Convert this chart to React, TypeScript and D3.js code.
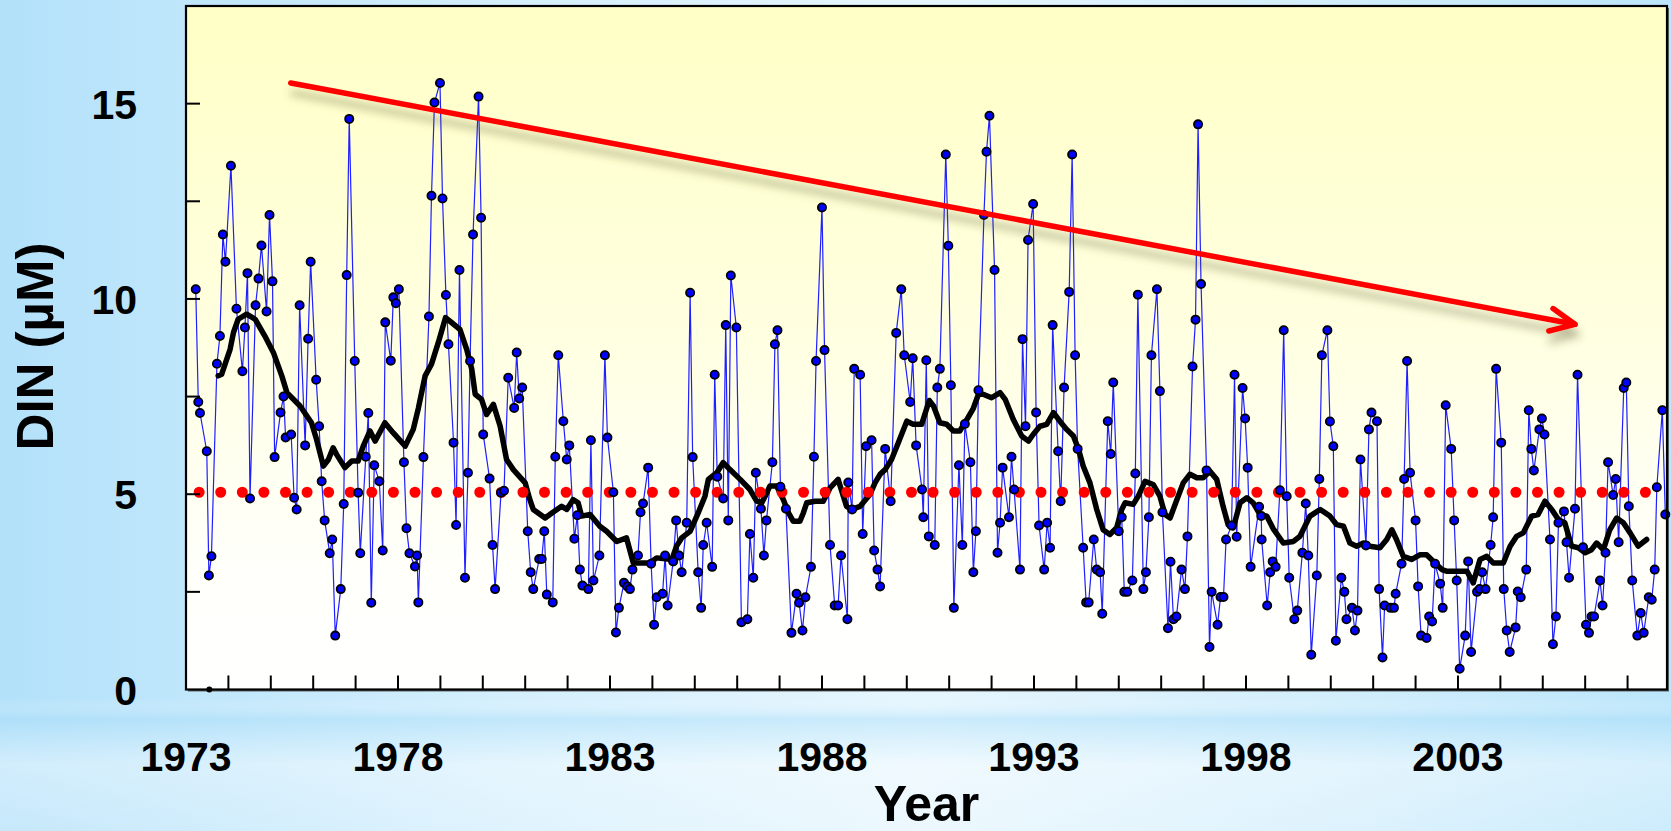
import React from 'react';
import * as d3 from 'd3';

const W = 1671;
const H = 831;

// Axis ticks and labels
const xTickYears = d3.range(1974, 2008);
const xLabelYears = [1973, 1978, 1983, 1988, 1993, 1998, 2003];
const yTickValues = [2.5, 5, 7.5, 10, 12.5, 15];
const yLabelValues = [0, 5, 10, 15];

// Observed DIN (µM), approx. monthly
const obsYears = [
  1973.23, 1973.29, 1973.33, 1973.49, 1973.54, 1973.6, 1973.73, 1973.8, 1973.87, 1973.93,
  1974.06, 1974.19, 1974.33, 1974.39, 1974.45, 1974.51, 1974.64, 1974.71, 1974.78, 1974.9,
  1974.97, 1975.04, 1975.09, 1975.23, 1975.3, 1975.35, 1975.48, 1975.55, 1975.61, 1975.68,
  1975.81, 1975.88, 1975.94, 1976.07, 1976.14, 1976.2, 1976.27, 1976.39, 1976.45, 1976.52,
  1976.65, 1976.72, 1976.79, 1976.85, 1976.98, 1977.06, 1977.11, 1977.24, 1977.3, 1977.37,
  1977.44, 1977.56, 1977.64, 1977.7, 1977.83, 1977.89, 1977.95, 1978.02, 1978.14, 1978.2,
  1978.27, 1978.4, 1978.45, 1978.48, 1978.6, 1978.73, 1978.79, 1978.86, 1978.99, 1979.05,
  1979.13, 1979.19, 1979.31, 1979.37, 1979.45, 1979.58, 1979.65, 1979.7, 1979.77, 1979.9,
  1979.96, 1980.01, 1980.16, 1980.23, 1980.29, 1980.43, 1980.5, 1980.6, 1980.74, 1980.8,
  1980.86, 1980.93, 1981.06, 1981.13, 1981.19, 1981.33, 1981.39, 1981.45, 1981.51, 1981.65,
  1981.71, 1981.78, 1981.9, 1981.98, 1982.04, 1982.16, 1982.23, 1982.29, 1982.35, 1982.49,
  1982.55, 1982.61, 1982.75, 1982.88, 1982.94, 1983.08, 1983.14, 1983.21, 1983.33, 1983.41,
  1983.47, 1983.53, 1983.66, 1983.72, 1983.78, 1983.9, 1983.97, 1984.04, 1984.1, 1984.24,
  1984.3, 1984.36, 1984.49, 1984.56, 1984.63, 1984.69, 1984.81, 1984.89, 1984.95, 1985.08,
  1985.15, 1985.2, 1985.28, 1985.41, 1985.47, 1985.53, 1985.67, 1985.73, 1985.79, 1985.85,
  1985.98, 1986.1, 1986.24, 1986.3, 1986.38, 1986.44, 1986.56, 1986.63, 1986.69, 1986.83,
  1986.89, 1986.95, 1987.02, 1987.15, 1987.28, 1987.4, 1987.46, 1987.54, 1987.61, 1987.74,
  1987.81, 1987.86, 1988.0, 1988.06, 1988.19, 1988.3, 1988.38, 1988.45, 1988.6, 1988.62,
  1988.71, 1988.76, 1988.9, 1988.96, 1989.04, 1989.17, 1989.23, 1989.31, 1989.37, 1989.49,
  1989.62, 1989.75, 1989.87, 1989.94, 1990.08, 1990.14, 1990.22, 1990.36, 1990.39, 1990.46,
  1990.52, 1990.66, 1990.72, 1990.78, 1990.92, 1990.98, 1991.04, 1991.11, 1991.23, 1991.31,
  1991.37, 1991.5, 1991.57, 1991.63, 1991.69, 1991.82, 1991.88, 1991.95, 1992.07, 1992.14,
  1992.2, 1992.26, 1992.41, 1992.47, 1992.53, 1992.67, 1992.73, 1992.8, 1992.86, 1992.98,
  1993.05, 1993.12, 1993.24, 1993.31, 1993.38, 1993.44, 1993.57, 1993.63, 1993.71, 1993.83,
  1993.9, 1993.97, 1994.03, 1994.16, 1994.23, 1994.29, 1994.41, 1994.48, 1994.56, 1994.61,
  1994.74, 1994.81, 1994.87, 1995.0, 1995.07, 1995.13, 1995.2, 1995.32, 1995.39, 1995.45,
  1995.58, 1995.64, 1995.71, 1995.77, 1995.9, 1995.97, 1996.03, 1996.16, 1996.22, 1996.29,
  1996.36, 1996.48, 1996.56, 1996.62, 1996.74, 1996.81, 1996.87, 1996.94, 1997.07, 1997.14,
  1997.19, 1997.33, 1997.4, 1997.47, 1997.53, 1997.66, 1997.73, 1997.78, 1997.92, 1997.98,
  1998.04, 1998.11, 1998.31, 1998.36, 1998.37, 1998.5, 1998.57, 1998.63, 1998.7, 1998.8,
  1998.89, 1998.96, 1999.02, 1999.14, 1999.21, 1999.33, 1999.41, 1999.47, 1999.54, 1999.67,
  1999.73, 1999.79, 1999.92, 1999.98, 2000.06, 2000.12, 2000.25, 2000.32, 2000.37, 2000.5,
  2000.57, 2000.63, 2000.7, 2000.83, 2000.9, 2000.96, 2001.09, 2001.14, 2001.22, 2001.27,
  2001.41, 2001.49, 2001.53, 2001.67, 2001.73, 2001.8, 2001.87, 2002.0, 2002.06, 2002.13,
  2002.26, 2002.32, 2002.39, 2002.46, 2002.58, 2002.64, 2002.71, 2002.84, 2002.91, 2002.97,
  2003.04, 2003.17, 2003.24, 2003.31, 2003.45, 2003.51, 2003.57, 2003.65, 2003.77, 2003.83,
  2003.9, 2004.02, 2004.08, 2004.15, 2004.22, 2004.36, 2004.41, 2004.48, 2004.61, 2004.67,
  2004.73, 2004.79, 2004.92, 2004.98, 2005.04, 2005.17, 2005.24, 2005.31, 2005.37, 2005.5,
  2005.56, 2005.62, 2005.76, 2005.82, 2005.95, 2006.02, 2006.09, 2006.15, 2006.21, 2006.35,
  2006.41, 2006.48, 2006.54, 2006.66, 2006.72, 2006.79, 2006.91, 2006.97, 2007.03, 2007.11,
  2007.23, 2007.31, 2007.38, 2007.5, 2007.57, 2007.64, 2007.69, 2007.82, 2007.89,
];
const obsValues = [
  10.25, 7.36, 7.08, 6.1, 2.92, 3.41, 8.34, 9.05, 11.65, 10.95,
  13.41, 9.75, 8.15, 9.27, 10.66, 4.89, 9.84, 10.52, 11.37, 9.68,
  12.15, 10.45, 5.95, 7.09, 7.5, 6.45, 6.53, 4.91, 4.61, 9.84,
  6.25, 8.98, 10.95, 7.93, 6.74, 5.33, 4.33, 3.49, 3.84, 1.38,
  2.57, 4.75, 10.61, 14.61, 8.41, 5.04, 3.49, 5.96, 7.08, 2.22,
  5.74, 5.33, 3.56, 9.4, 8.42, 10.04, 9.89, 10.25, 5.82, 4.13,
  3.49, 3.15, 3.43, 2.23, 5.95, 9.55, 12.64, 15.03, 15.53, 12.57,
  10.1, 8.84, 6.32, 4.21, 10.74, 2.86, 5.55, 8.41, 11.65, 15.18,
  12.08, 6.53, 5.4, 3.7, 2.57, 5.04, 5.09, 7.98, 7.21, 8.63,
  7.45, 7.73, 4.05, 3.0, 2.57, 3.34, 3.34, 4.05, 2.43, 2.23,
  5.96, 8.56, 6.87, 5.89, 6.25, 3.86, 4.46, 3.07, 2.66, 2.57,
  6.38, 2.79, 3.43, 8.56, 6.45, 5.05, 1.46, 2.09, 2.73, 2.64,
  2.57, 3.07, 3.43, 4.54, 4.76, 5.68, 3.22, 1.66, 2.36, 2.45,
  3.43, 2.15, 3.28, 4.33, 3.43, 3.0, 4.27, 10.16, 5.95, 3.0,
  2.09, 3.7, 4.27, 3.14, 8.06, 5.45, 4.89, 9.33, 4.33, 10.6,
  9.27, 1.72, 1.8, 3.98, 2.86, 5.55, 4.63, 3.43, 4.33, 5.82,
  8.84, 9.2, 5.19, 4.63, 1.45, 2.45, 2.22, 1.51, 2.36, 3.14,
  5.96, 8.41, 12.34, 8.69, 3.7, 2.15, 2.15, 3.43, 1.8, 5.3,
  4.61, 8.21, 8.06, 3.98, 6.23, 6.38, 3.56, 3.07, 2.64, 6.16,
  4.82, 9.13, 10.25, 8.56, 7.36, 8.48, 6.25, 5.12, 4.41, 8.43,
  3.92, 3.7, 7.73, 8.21, 13.7, 11.36, 7.79, 2.09, 5.74, 3.7,
  6.8, 5.82, 3.0, 4.05, 7.66, 12.15, 13.77, 14.69, 10.74, 3.5,
  4.27, 5.68, 4.41, 5.96, 5.12, 3.07, 8.97, 6.74, 11.51, 12.43,
  7.09, 4.2, 3.07, 4.27, 3.63, 9.33, 6.1, 4.82, 7.73, 10.18,
  13.7, 8.56, 6.16, 3.63, 2.23, 2.23, 3.84, 3.07, 3.0, 1.94,
  6.87, 6.03, 7.86, 4.05, 4.41, 2.5, 2.5, 2.79, 5.53, 10.11,
  2.57, 3.0, 4.41, 8.56, 10.25, 7.64, 4.54, 1.57, 3.27, 1.8,
  1.87, 3.07, 2.57, 3.92, 8.27, 9.47, 14.47, 10.38, 5.61, 1.09,
  2.5, 1.66, 2.37, 2.37, 3.84, 4.2, 8.06, 3.91, 7.72, 6.94,
  5.68, 3.14, 4.68, 4.44, 3.84, 2.15, 3.0, 3.28, 3.14, 5.1,
  9.2, 4.95, 2.86, 1.8, 2.02, 3.5, 4.76, 3.43, 0.89, 2.92,
  5.39, 8.56, 9.2, 6.86, 6.23, 1.25, 2.86, 2.5, 1.8, 2.09,
  1.51, 2.02, 5.89, 3.69, 6.66, 7.09, 6.87, 2.57, 0.82, 2.15,
  2.09, 2.09, 2.45, 3.22, 5.39, 8.41, 5.55, 4.33, 2.64, 1.38,
  1.32, 1.87, 1.74, 3.22, 2.71, 2.09, 7.28, 6.16, 4.33, 2.79,
  0.53, 1.38, 3.28, 0.96, 2.5, 2.57, 3.0, 2.57, 3.7, 4.41,
  8.21, 6.32, 2.57, 1.51, 0.96, 1.59, 2.51, 2.36, 3.07, 7.15,
  6.16, 5.61, 6.66, 6.94, 6.53, 3.84, 1.16, 1.87, 4.27, 4.56,
  3.77, 2.86, 4.63, 8.06, 3.64, 1.66, 1.45, 1.87, 1.87, 2.79,
  2.15, 3.5, 5.82, 4.98, 5.39, 3.77, 7.72, 7.86, 4.69, 2.79,
  1.38, 1.96, 1.45, 2.36, 2.3, 3.07, 5.18, 7.15, 4.48,
];

// Running mean (black)
const meanYears = [
  1973.76, 1973.84, 1974.04, 1974.12, 1974.23, 1974.43, 1974.63, 1974.86, 1975.06, 1975.26,
  1975.38, 1975.69, 1975.96, 1976.08, 1976.24, 1976.36, 1976.47, 1976.55, 1976.75, 1976.91,
  1977.06, 1977.18, 1977.34, 1977.46, 1977.69, 1977.89, 1978.17, 1978.36, 1978.48, 1978.64,
  1978.79, 1978.95, 1979.12, 1979.27, 1979.46, 1979.62, 1979.74, 1979.82, 1979.97, 1980.09,
  1980.25, 1980.41, 1980.56, 1980.72, 1981.0, 1981.11, 1981.19, 1981.47, 1981.63, 1981.86,
  1981.98, 1982.13, 1982.25, 1982.33, 1982.53, 1982.76, 1982.92, 1983.16, 1983.39, 1983.55,
  1983.94, 1984.1, 1984.46, 1984.57, 1984.69, 1984.89, 1985.08, 1985.24, 1985.32, 1985.52,
  1985.67, 1985.83, 1986.07, 1986.3, 1986.46, 1986.58, 1986.7, 1986.77, 1986.93, 1987.09,
  1987.21, 1987.32, 1987.48, 1987.56, 1987.64, 1987.84, 1988.03, 1988.19, 1988.38, 1988.58,
  1988.7, 1988.9, 1989.13, 1989.25, 1989.37, 1989.49, 1989.64, 1989.8, 1990.0, 1990.15,
  1990.35, 1990.53, 1990.63, 1990.78, 1990.94, 1991.1, 1991.25, 1991.41, 1991.57, 1991.69,
  1991.8, 1992.0, 1992.2, 1992.32, 1992.51, 1992.71, 1992.87, 1992.98, 1993.14, 1993.3,
  1993.46, 1993.61, 1993.77, 1993.93, 1994.05, 1994.16, 1994.32, 1994.48, 1994.63, 1994.79,
  1994.95, 1995.07, 1995.15, 1995.34, 1995.46, 1995.62, 1995.81, 1995.97, 1996.09, 1996.21,
  1996.37, 1996.52, 1996.68, 1996.84, 1996.99, 1997.15, 1997.31, 1997.46, 1997.58, 1997.7,
  1997.86, 1998.02, 1998.17, 1998.33, 1998.49, 1998.64, 1998.88, 1999.12, 1999.27, 1999.51,
  1999.75, 1999.98, 2000.14, 2000.3, 2000.45, 2000.61, 2000.77, 2000.92, 2001.16, 2001.32,
  2001.44, 2001.55, 2001.71, 2001.91, 2002.1, 2002.26, 2002.42, 2002.62, 2002.73, 2003.21,
  2003.36, 2003.52, 2003.68, 2003.83, 2004.07, 2004.23, 2004.38, 2004.54, 2004.74, 2004.89,
  2005.05, 2005.21, 2005.37, 2005.52, 2005.68, 2005.84, 2006.0, 2006.15, 2006.27, 2006.43,
  2006.58, 2006.74, 2006.9, 2007.06, 2007.25, 2007.45,
];
const meanValues = [
  8.03, 8.07, 8.71, 9.14, 9.48, 9.61, 9.48, 9.05, 8.63, 8.03,
  7.6, 7.26, 6.83, 6.4, 5.72, 5.89, 6.19, 6.02, 5.68, 5.85,
  5.85, 6.23, 6.62, 6.36, 6.83, 6.57, 6.23, 6.66, 7.2, 8.03,
  8.33, 8.88, 9.52, 9.39, 9.22, 8.71, 8.2, 7.56, 7.43, 7.04,
  7.3, 6.74, 5.89, 5.63, 5.29, 4.86, 4.61, 4.39, 4.52, 4.69,
  4.61, 4.86, 4.78, 4.44, 4.48, 4.18, 4.05, 3.79, 3.88, 3.24,
  3.24, 3.37, 3.33, 3.67, 3.88, 4.05, 4.52, 4.95, 5.38, 5.55,
  5.81, 5.63, 5.38, 5.12, 4.82, 4.78, 5.04, 5.21, 5.21, 4.86,
  4.52, 4.31, 4.31, 4.52, 4.78, 4.82, 4.82, 5.16, 5.38, 4.69,
  4.61, 4.69, 4.99, 5.29, 5.51, 5.63, 5.89, 6.32, 6.87, 6.79,
  6.79, 7.4, 7.26, 6.83, 6.79, 6.62, 6.62, 6.9, 7.2, 7.56,
  7.56, 7.47, 7.6, 7.43, 6.92, 6.49, 6.36, 6.53, 6.74, 6.79,
  7.09, 6.87, 6.66, 6.49, 6.15, 5.72, 5.29, 4.61, 4.09, 3.97,
  4.14, 4.61, 4.78, 4.74, 4.95, 5.33, 5.25, 4.95, 4.48, 4.39,
  4.86, 5.29, 5.51, 5.42, 5.42, 5.59, 5.38, 4.69, 4.22, 4.14,
  4.78, 4.91, 4.78, 4.48, 4.44, 4.12, 3.75, 3.79, 3.92, 4.44,
  4.61, 4.44, 4.22, 4.18, 3.75, 3.67, 3.75, 3.67, 3.63, 3.84,
  4.09, 3.84, 3.41, 3.33, 3.45, 3.45, 3.28, 3.07, 3.03, 3.03,
  2.73, 3.33, 3.41, 3.24, 3.24, 3.67, 3.92, 4.01, 4.44, 4.48,
  4.82, 4.61, 4.35, 4.27, 3.67, 3.63, 3.5, 3.58, 3.75, 3.58,
  4.09, 4.39, 4.27, 4.01, 3.67, 3.84,
];

// Reference (red dotted) level and decreasing-trend arrow
const refLevel = 5.05;
const refYears = [1973.31, 2007.93];
const trendYears = [1975.47, 2005.76];
const trendValues = [15.53, 9.35];
// a sample sitting on the axis
const axisPointYears = [1973.55];
const axisPointValues = [0];

const FONT = "Arial, 'Liberation Sans', Helvetica, sans-serif";

export default function App() {
  const left = 186, right = 1667, top = 6, bottom = 689.5;
  const x = d3.scaleLinear().domain([1973, 2007.93]).range([left, right]);
  const y = d3.scaleLinear().domain([0, 17.5]).range([bottom, top]);

  const obs = obsYears.map((t, i) => [t, obsValues[i]] as [number, number]);
  const mean = meanYears.map((t, i) => [t, meanValues[i]] as [number, number]);

  const lineGen = d3
    .line<[number, number]>()
    .x((d) => x(d[0]))
    .y((d) => y(d[1]));

  // red dotted reference line
  const rx1 = x(refYears[0]);
  const rx2 = x(refYears[1]);
  const nDots = Math.round((rx2 - rx1) / 21.6);
  const dotGap = (rx2 - rx1) / nDots;

  // trend arrow
  const ax1 = x(trendYears[0]), ay1 = y(trendValues[0]);
  const ax2 = x(trendYears[1]), ay2 = y(trendValues[1]);
  const ang = Math.atan2(ay2 - ay1, ax2 - ax1);
  const headLen = 27;
  const headAng = (25 * Math.PI) / 180;
  const h1x = ax2 - headLen * Math.cos(ang - headAng);
  const h1y = ay2 - headLen * Math.sin(ang - headAng);
  const h2x = ax2 - headLen * Math.cos(ang + headAng);
  const h2y = ay2 - headLen * Math.sin(ang + headAng);

  return (
    <svg
      width={W}
      height={H}
      viewBox={`0 0 ${W} ${H}`}
      style={{ position: 'absolute', left: 0, top: 0, display: 'block' }}
    >
      <defs>
        <linearGradient id="bgH" x1="0" y1="0" x2="1" y2="0">
          <stop offset="0" stopColor="#B3E1FA" />
          <stop offset="0.3" stopColor="#D4EFFD" />
          <stop offset="0.55" stopColor="#E6F6FE" />
          <stop offset="0.8" stopColor="#D2EEFC" />
          <stop offset="1" stopColor="#BCE6FB" />
        </linearGradient>
        <linearGradient id="bgV" x1="0" y1="0" x2="0" y2="1">
          <stop offset="0" stopColor="#FFFFFF" stopOpacity="0" />
          <stop offset="0.84" stopColor="#FFFFFF" stopOpacity="0" />
          <stop offset="0.865" stopColor="#A9DDF8" stopOpacity="0.45" />
          <stop offset="0.92" stopColor="#FFFFFF" stopOpacity="0.4" />
          <stop offset="1" stopColor="#FFFFFF" stopOpacity="0.25" />
        </linearGradient>
        <linearGradient id="plotBg" x1="0" y1="0" x2="0" y2="1">
          <stop offset="0" stopColor="#FFFFC6" />
          <stop offset="0.45" stopColor="#FFFFDF" />
          <stop offset="0.8" stopColor="#FFFFFA" />
          <stop offset="1" stopColor="#FFFFFF" />
        </linearGradient>
        <filter
          id="arrowShadow"
          filterUnits="userSpaceOnUse"
          x="0"
          y="0"
          width={W}
          height={H}
        >
          <feGaussianBlur in="SourceAlpha" stdDeviation="4" />
          <feOffset dx="2" dy="10" result="blur" />
          <feFlood floodColor="#55552a" floodOpacity="0.4" />
          <feComposite in2="blur" operator="in" />
          <feMerge>
            <feMergeNode />
            <feMergeNode in="SourceGraphic" />
          </feMerge>
        </filter>
      </defs>

      {/* page background */}
      <rect x={0} y={0} width={W} height={H} fill="url(#bgH)" />
      <rect x={0} y={0} width={W} height={H} fill="url(#bgV)" />

      {/* plot area with shadow */}
      <rect
        x={left + 2}
        y={top + 2}
        width={right - left}
        height={bottom - top}
        fill="#3a3a3a"
        opacity={0.75}
      />
      <rect
        x={left}
        y={top}
        width={right - left}
        height={bottom - top}
        fill="url(#plotBg)"
      />

      {/* observed series */}
      <path d={lineGen(obs) || ''} fill="none" stroke="#1f1fff" strokeWidth={1.2} />

      {/* running mean */}
      <path
        d={lineGen(mean) || ''}
        fill="none"
        stroke="#000"
        strokeWidth={5.5}
        strokeLinejoin="round"
        strokeLinecap="round"
      />

      {/* reference level */}
      <line
        x1={rx1}
        x2={rx2}
        y1={y(refLevel)}
        y2={y(refLevel)}
        stroke="#FF0000"
        strokeWidth={11}
        strokeLinecap="round"
        strokeDasharray={`0 ${dotGap}`}
      />

      {/* points */}
      <g>
        {obs.map((d, i) => (
          <circle
            key={i}
            cx={x(d[0])}
            cy={y(d[1])}
            r={4.1}
            fill="#0000FF"
            stroke="#000"
            strokeWidth={1.8}
          />
        ))}
        {axisPointYears.map((t, i) => (
          <circle key={'a' + i} cx={x(t)} cy={y(axisPointValues[i])} r={3} fill="#000" />
        ))}
      </g>

      {/* frame and ticks */}
      <rect
        x={left}
        y={top}
        width={right - left}
        height={bottom - top}
        fill="none"
        stroke="#000"
        strokeWidth={2.2}
      />
      <g stroke="#000" strokeWidth={2}>
        {xTickYears.map((t) => (
          <line key={t} x1={x(t)} x2={x(t)} y1={bottom} y2={bottom - 14} />
        ))}
        {yTickValues.map((v) => (
          <line key={v} x1={left} x2={left + 14} y1={y(v)} y2={y(v)} />
        ))}
      </g>

      {/* trend arrow */}
      <g filter="url(#arrowShadow)">
        <line
          x1={ax1}
          y1={ay1}
          x2={ax2}
          y2={ay2}
          stroke="#FF0000"
          strokeWidth={5.5}
          strokeLinecap="round"
        />
        <path
          d={`M${h1x},${h1y} L${ax2},${ay2} L${h2x},${h2y}`}
          fill="none"
          stroke="#FF0000"
          strokeWidth={5.5}
          strokeLinecap="round"
          strokeLinejoin="round"
        />
      </g>

      {/* tick labels */}
      <g fontFamily={FONT} fontWeight="bold" fontSize={41} fill="#000">
        {xLabelYears.map((t) => (
          <text key={t} x={x(t)} y={771} textAnchor="middle">
            {t}
          </text>
        ))}
        {yLabelValues.map((v) => (
          <text key={v} x={137} y={y(v) + 15} textAnchor="end">
            {v}
          </text>
        ))}
      </g>

      {/* axis titles */}
      <text
        x={(left + right) / 2}
        y={821}
        textAnchor="middle"
        fontFamily={FONT}
        fontWeight="bold"
        fontSize={50}
        fill="#000"
      >
        Year
      </text>
      <text
        transform={`translate(53,346.5) rotate(-90)`}
        textAnchor="middle"
        fontFamily={FONT}
        fontWeight="bold"
        fontSize={51}
        fill="#000"
      >
        DIN (µM)
      </text>
    </svg>
  );
}
